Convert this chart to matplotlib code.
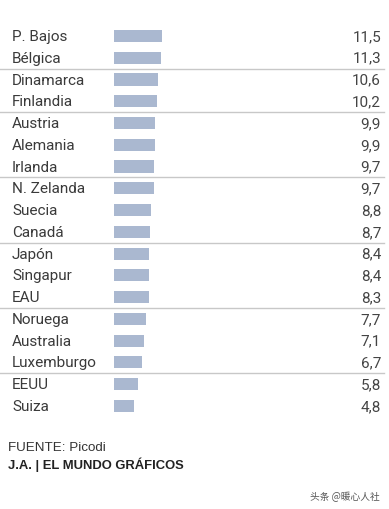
import matplotlib.pyplot as plt

countries = ['P. Bajos', 'Bélgica', 'Dinamarca', 'Finlandia', 'Austria', 'Alemania',
             'Irlanda', 'N. Zelanda', 'Suecia', 'Canadá', 'Japón', 'Singapur', 'EAU',
             'Noruega', 'Australia', 'Luxemburgo', 'EEUU', 'Suiza']
values = [11.5, 11.3, 10.6, 10.2, 9.9, 9.9, 9.7, 9.7, 8.8, 8.7, 8.4, 8.4, 8.3,
          7.7, 7.1, 6.7, 5.8, 4.8]
labels = ['11,5', '11,3', '10,6', '10,2', '9,9', '9,9', '9,7', '9,7', '8,8', '8,7',
          '8,4', '8,4', '8,3', '7,7', '7,1', '6,7', '5,8', '4,8']
# separator lines after these rows
separators = [1, 3, 6, 9, 12, 15]

W, H = 389, 510
fig = plt.figure(figsize=(W / 100, H / 100), dpi=100)
ax = fig.add_axes([0, 0, 1, 1])

px_per_unit = 4.17
x0 = 114
row0, row_h = 37, 21.76
ax.set_xlim(-x0 / px_per_unit, (W - x0) / px_per_unit)
ax.set_ylim((H - row0) / row_h, -row0 / row_h)
ax.axis('off')

ys = list(range(len(countries)))
ax.barh(ys, values, height=0.56, color='#aab8d0', left=0)

tr = ax.get_yaxis_transform()
for y, name, lab in zip(ys, countries, labels):
    ax.text(12 / W, y, name, transform=tr, ha='left', va='center',
            fontsize=11, family='Roboto', color='#3a3a3a')
    ax.text(381 / W, y, lab, transform=tr, ha='right', va='center',
            fontsize=11, family='Roboto', color='#444444')

for s in separators:
    ax.axhline(s + 0.5, xmin=0, xmax=384 / W, color='#c8c8c8', lw=1)

fig.text(8 / W, 1 - 448 / H, 'FUENTE: Picodi', ha='left', va='center',
         fontsize=9.6, family='Liberation Sans', color='#333333')
fig.text(8 / W, 1 - 465 / H, 'J.A. | EL MUNDO GRÁFICOS', ha='left', va='center',
         fontsize=9.4, family='Liberation Sans', weight='bold', color='#222222')
fig.text(380 / W, 1 - 497 / H, '头条 @暖心人社', ha='right', va='center',
         fontsize=7, family=['Noto Sans CJK SC', 'DejaVu Sans'], color='#555555')

fig.savefig('out.png', dpi=100, facecolor='white')
